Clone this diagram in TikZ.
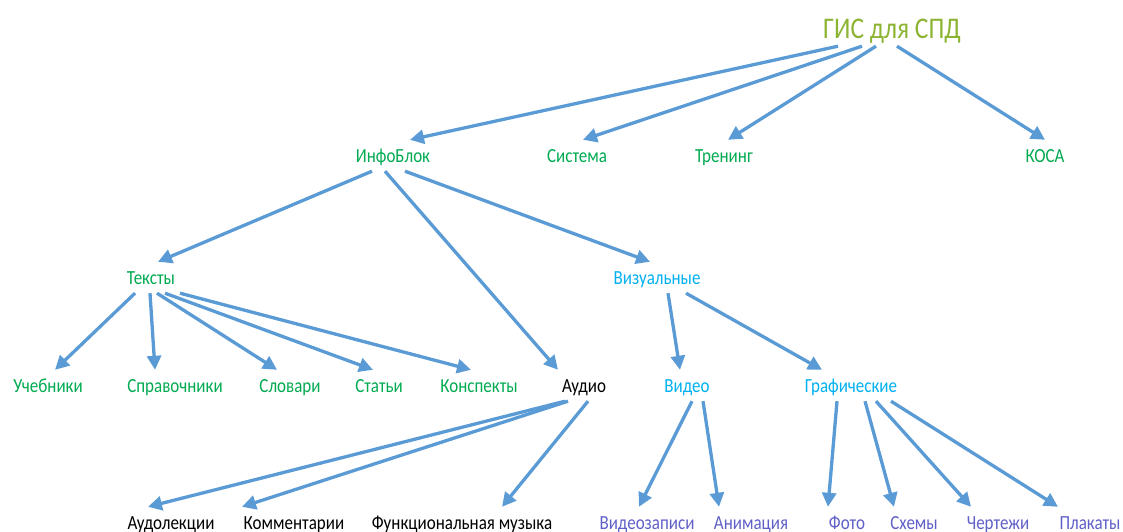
\documentclass[tikz,border=0pt]{standalone}
\usepackage{fontspec}
\setmainfont[FakeStretch=0.85]{Carlito}
\usetikzlibrary{arrows.meta}
\definecolor{arrowblue}{RGB}{91,155,213}
\definecolor{titlegreen}{RGB}{140,180,50}
\definecolor{labelgreen}{RGB}{0,170,80}
\definecolor{labelblue}{RGB}{0,176,240}
\definecolor{labelviolet}{RGB}{95,95,200}
\tikzset{
  lbl/.style = {font = \fontsize{20}{20}\selectfont, anchor = base, inner xsep = 2pt, inner ysep = 9pt, text height = 13pt, text depth = 0pt},
  green/.style = {lbl, text = labelgreen},
  blue/.style = {lbl, text = labelblue},
  violet/.style = {lbl, text = labelviolet},
  black/.style = {lbl, text = black},
  arr/.style = {draw = arrowblue, line width = 3.3pt, -{Triangle[length = 14pt, width = 14pt]}}
}
\begin{document}
\begin{tikzpicture}[x = 1pt, y = -1pt]
\useasboundingbox (0,0) rectangle (1123,532);
\node[lbl, text = titlegreen, font = \fontsize{30}{30}\selectfont, text height = 21pt, inner ysep = 7pt] (gis) at (892,39) {ГИС для СПД};
\node[green] (info) at (393,162) {ИнфоБлок};
\node[green] (sys) at (577,162) {Система};
\node[green] (tren) at (724,162) {Тренинг};
\node[green] (kosa) at (1045,162) {КОСА};
\node[green] (tex) at (151,284) {Тексты};
\node[blue] (vis) at (657,284) {Визуальные};
\node[green] (ucheb) at (48,392) {Учебники};
\node[green] (sprav) at (175,392) {Справочники};
\node[green] (slov) at (290,392) {Словари};
\node[green] (stat) at (379,392) {Статьи};
\node[green] (konsp) at (479,392) {Конспекты};
\node[black] (audio) at (584,392) {Аудио};
\node[blue] (video) at (687,392) {Видео};
\node[blue] (graf) at (851,392) {Графические};
\node[black] (audl) at (171,529) {Аудолекции};
\node[black] (komm) at (294,529) {Комментарии};
\node[black] (func) at (462,529) {Функциональная музыка};
\node[violet] (vzap) at (647,529) {Видеозаписи};
\node[violet] (anim) at (751,529) {Анимация};
\node[violet] (foto) at (847,529) {Фото};
\node[violet] (shem) at (914,529) {Схемы};
\node[violet] (cherte) at (998,529) {Чертежи};
\node[violet] (plak) at (1090,529) {Плакаты};

\draw[arr] ([xshift = -54pt]gis.south) -- ([xshift = 17pt]info.north);
\draw[arr] ([xshift = -30pt]gis.south) -- ([xshift = 6pt]sys.north);
\draw[arr] ([xshift = -16pt]gis.south) -- ([xshift = 4pt]tren.north);
\draw[arr] ([xshift = 5pt]gis.south) -- (kosa.north);

\draw[arr] ([xshift = -21pt]info.south) -- ([xshift = 7pt]tex.north);
\draw[arr] ([xshift = -8pt]info.south) -- ([xshift = -26pt]audio.north);
\draw[arr] ([xshift = 12pt]info.south) -- ([xshift = -7pt]vis.north);

\draw[arr] ([xshift = -16pt]tex.south) -- ([xshift = 7pt]ucheb.north);
\draw[arr] ([xshift = -1pt]tex.south) -- ([xshift = -20pt]sprav.north);
\draw[arr] ([xshift = 6pt]tex.south) -- ([xshift = -13pt]slov.north);
\draw[arr] ([xshift = 14pt]tex.south) -- ([xshift = -6pt]stat.north);
\draw[arr] ([xshift = 29pt]tex.south) -- ([xshift = -8pt]konsp.north);

\draw[arr] ([xshift = 11pt]vis.south) -- ([xshift = -7pt]video.north);
\draw[arr] ([xshift = 29pt]vis.south) -- ([xshift = -29pt]graf.north);

\draw[arr] ([xshift = -19pt]audio.south) -- ([xshift = -23pt]audl.north);
\draw[arr] ([xshift = -16pt]audio.south) -- ([xshift = -52pt]komm.north);
\draw[arr] ([xshift = 4pt]audio.south) -- ([xshift = 40pt]func.north);

\draw[arr] ([xshift = 5pt]video.south) -- ([xshift = -8pt]vzap.north);
\draw[arr] ([xshift = 16pt]video.south) -- ([xshift = -32pt]anim.north);

\draw[arr] ([xshift = -14pt]graf.south) -- ([xshift = -19pt]foto.north);
\draw[arr] ([xshift = 14pt]graf.south) -- ([xshift = -20pt]shem.north);
\draw[arr] ([xshift = 25pt]graf.south) -- ([xshift = -27pt]cherte.north);
\draw[arr] ([xshift = 40pt]graf.south) -- ([xshift = -32pt]plak.north);
\end{tikzpicture}
\end{document}
